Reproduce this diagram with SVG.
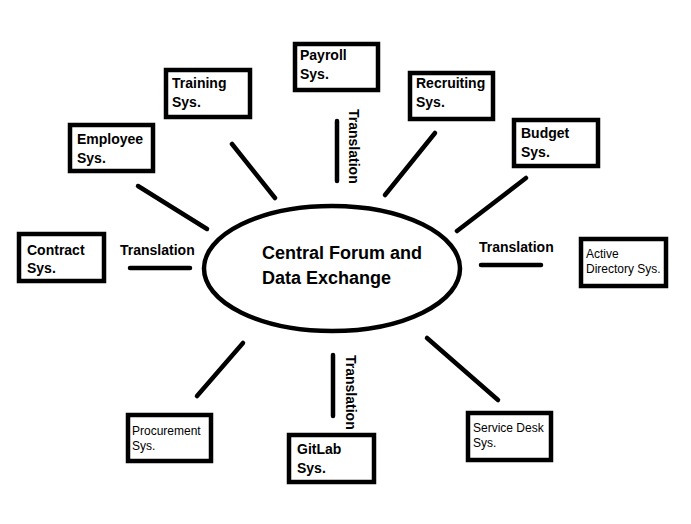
<svg xmlns="http://www.w3.org/2000/svg" width="691" height="524" viewBox="0 0 691 524">
<style>
.box{fill:#fff;stroke:#000;stroke-width:4.5}
.t{font-family:"Liberation Sans",Arial,sans-serif;font-weight:bold;font-size:14px;fill:#000}
.s{font-family:"Liberation Sans",Arial,sans-serif;font-size:12px;fill:#000}
.c{font-family:"Liberation Sans",Arial,sans-serif;font-weight:bold;font-size:18px;fill:#000}
.ln{stroke:#000;stroke-width:4.5;stroke-linecap:round;fill:none}
</style>
<rect width="691" height="524" fill="#fff"/>
<g id="connectors">
<line class="ln" x1="138" y1="186" x2="207" y2="229"/>
<line class="ln" x1="232" y1="144" x2="275" y2="198"/>
<line class="ln" x1="337" y1="121" x2="337" y2="181"/>
<line class="ln" x1="435" y1="133" x2="385" y2="195"/>
<line class="ln" x1="526" y1="178" x2="457" y2="231"/>
<line class="ln" x1="130" y1="268" x2="190" y2="268"/>
<line class="ln" x1="481" y1="265" x2="541" y2="265"/>
<line class="ln" x1="243" y1="343" x2="197" y2="396"/>
<line class="ln" x1="333" y1="355" x2="333" y2="416"/>
<line class="ln" x1="427" y1="338" x2="498" y2="400"/>
<text class="t" x="120" y="255">Translation</text>
<text class="t" x="479" y="252">Translation</text>
<text class="t" transform="translate(349,109) rotate(90)">Translation</text>
<text class="t" transform="translate(346,355) rotate(90)">Translation</text>
</g>
<g id="central">
<ellipse cx="332" cy="268.5" rx="128" ry="62.5" fill="#fff" stroke="#000" stroke-width="4.5"/>
<text class="c" x="262" y="259">Central Forum and</text>
<text class="c" x="262" y="284">Data Exchange</text>
</g>
<g id="payroll"><rect class="box" x="295" y="44" width="83" height="46"/><text class="t" x="300" y="60">Payroll</text><text class="t" x="300" y="79">Sys.</text></g>
<g id="training"><rect class="box" x="166" y="70" width="84" height="47"/><text class="t" x="172" y="88">Training</text><text class="t" x="172" y="107">Sys.</text></g>
<g id="employee"><rect class="box" x="70" y="125" width="83" height="46"/><text class="t" x="77" y="144">Employee</text><text class="t" x="77" y="163">Sys.</text></g>
<g id="contract"><rect class="box" x="19" y="234" width="85" height="47"/><text class="t" x="27" y="255">Contract</text><text class="t" x="27" y="273">Sys.</text></g>
<g id="recruiting"><rect class="box" x="410" y="73" width="83" height="46"/><text class="t" x="416" y="88">Recruiting</text><text class="t" x="416" y="107">Sys.</text></g>
<g id="budget"><rect class="box" x="514" y="120" width="84" height="46"/><text class="t" x="521" y="138">Budget</text><text class="t" x="521" y="157">Sys.</text></g>
<g id="activedirectory"><rect class="box" x="581" y="239" width="85" height="47"/><text class="s" x="586" y="258">Active</text><text class="s" x="586" y="273">Directory Sys.</text></g>
<g id="procurement"><rect class="box" x="128" y="415" width="83" height="46"/><text class="s" x="132" y="435">Procurement</text><text class="s" x="132" y="450">Sys.</text></g>
<g id="gitlab"><rect class="box" x="289" y="435" width="85" height="47"/><text class="t" x="297" y="454">GitLab</text><text class="t" x="297" y="473">Sys.</text></g>
<g id="servicedesk"><rect class="box" x="468" y="413" width="83" height="47"/><text class="s" x="473" y="432">Service Desk</text><text class="s" x="473" y="447">Sys.</text></g>
</svg>
